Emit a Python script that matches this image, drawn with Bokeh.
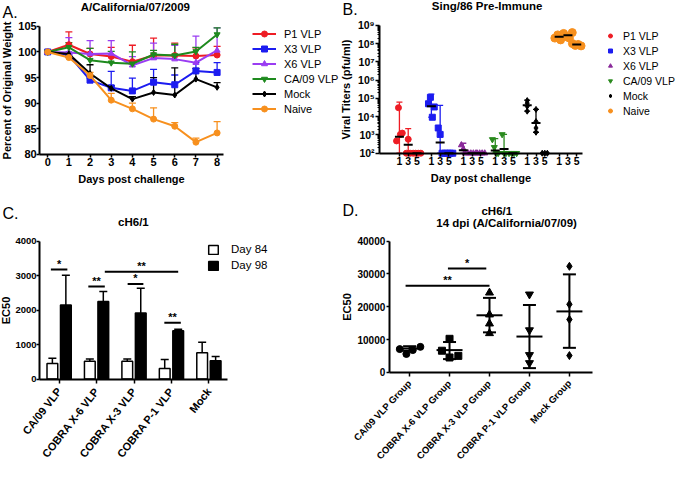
import math
from bokeh.plotting import figure
from bokeh.models import (Range1d, Label, Legend, LegendItem, Whisker, TeeHead, LinearAxis,
                          LogAxis, LogScale, LinearScale, ColumnDataSource, FixedTicker,
                          CustomJSTickFormatter)
from bokeh.core.properties import value
from bokeh.embed import file_html
from bokeh.resources import INLINE

FONT = "Liberation Sans"
W, H = 680, 462
SX, SY = 680 / 696, 462 / 478

# ---------------- Panel A data ----------------
a_days = [0, 1, 2, 3, 4, 5, 6, 7, 8]
a_names = ["P1 VLP", "X3 VLP", "X6 VLP", "CA/09 VLP", "Mock", "Naive"]
a_p1 = [100, 101.4, 99.6, 99.1, 98.1, 99.3, 99.3, 99.2, 99.4]
a_p1_top = [100, 103.9, 100.7, 100.9, 101.3, 102.7, 101.7, 100.8, 101.1]
a_x3 = [100, 99.4, 94.5, 93.0, 92.4, 94.1, 93.6, 96.3, 96.0]
a_x3_top = [100, 99.8, 94.9, 96.2, 94.9, 96.6, 95.5, 97.9, 97.9]
a_x6 = [100, 99.9, 99.6, 99.7, 97.4, 98.8, 98.6, 97.9, 100.3]
a_x6_top = [100, 102.8, 102.2, 102.2, 99.1, 101.7, 101.3, 103.1, 104.7]
a_ca09 = [100, 100.9, 98.4, 97.9, 97.7, 99.5, 99.3, 100.1, 103.4]
a_ca09_top = [100, 101.8, 100.7, 100.1, 100.0, 100.3, 101.5, 100.9, 104.7]
a_mock = [100, 99.6, 95.8, 92.9, 90.8, 92.1, 91.6, 94.7, 93.1]
a_mock_top = [100, 99.9, 97.5, 93.4, 91.3, 95.0, 96.9, 96.8, 94.0]
a_naive = [100, 98.9, 95.4, 90.6, 88.9, 86.9, 85.5, 82.4, 84.2]
a_naive_top = [100, 99.2, 96.0, 91.9, 90.0, 89.1, 86.2, 83.2, 86.4]
a_yticks = [80, 85, 90, 95, 100, 105]

# ---------------- Panel B data (pfu/ml) ----------------
b_names = ["P1 VLP", "X3 VLP", "X6 VLP", "CA/09 VLP", "Mock", "Naive"]
b_day_labels = ["1", "3", "5"]
b_p1 = [[470, 31000, 1070, 1260], [100, 580, 100], [100, 100, 100, 100]]
b_p1_mid = [800, 290, 100]
b_p1_lo = [100, 100, 100]
b_p1_hi = [62000, 2200, 100]
b_x3 = [[51000, 115000, 9300, 34000], [2400, 1070, 100], [100, 100, 100, 100]]
b_x3_mid = [37000, 380, 100]
b_x3_lo = [9300, 100, 100]
b_x3_hi = [170000, 42000, 100]
b_x6 = [[280, 170, 100], [100, 100, 100, 100], [100, 100, 100, 100]]
b_x6_mid = [145, 100, 100]
b_x6_lo = [100, 100, 100]
b_x6_hi = [350, 100, 100]
b_ca09 = [[570, 210, 100, 100], [1070, 100, 100], [100, 100, 100, 100]]
b_ca09_mid = [140, 170, 100]
b_ca09_lo = [100, 100, 100]
b_ca09_hi = [630, 1070, 100]
b_mock = [[76000, 55000, 37000, 20000], [25000, 5400, 2400, 1400], [100, 100, 100]]
b_mock_mid = [42000, 4500, 100]
b_mock_lo = [20000, 1400, 100]
b_mock_hi = [80000, 25000, 100]
b_naive = [[2.0e8, 3.0e8, 1.6e8, 2.6e8], [3.6e8, 2.4e8, 2.0e8, 4.0e8], [1.0e8, 8.0e7, 9.0e7, 7.5e7]]
b_naive_mid = [2.4e8, 2.9e8, 8.8e7]
b_naive_lo = [2.4e8, 2.9e8, 8.8e7]
b_naive_hi = [2.4e8, 2.9e8, 8.8e7]

# ---------------- Panel C data ----------------
c_cats = ["CA/09 VLP", "COBRA X-6 VLP", "COBRA X-3 VLP", "COBRA P-1 VLP", "Mock"]
c_day84 = [449, 514, 514, 308, 766]
c_day84_top = [607, 579, 579, 570, 1065]
c_day98 = [2150, 2252, 1916, 1402, 533]
c_day98_top = [3009, 2542, 2636, 1449, 654]
c_sig_x0 = [-0.22, 0.78, 1.22, 1.83, 2.81]
c_sig_x1 = [0.22, 1.22, 3.18, 2.25, 3.25]
c_sig_y = [3178, 2682, 3112, 2757, 1636]
c_sig_txt = ["*", "**", "**", "*", "**"]
c_yticks = [0, 1000, 2000, 3000, 4000]

# ---------------- Panel D data ----------------
d_cats = ["CA/09 VLP Group", "COBRA X-6 VLP Group", "COBRA X-3 VLP Group",
          "COBRA P-1 VLP Group", "Mock Group"]
d_vals = [[7076, 5602, 6781, 7764], [10221, 6585, 4521, 5012],
          [24275, 17592, 14840, 11892], [23784, 12875, 5307, 2850],
          [32334, 20737, 16118, 5111]]
d_jitter = [[-0.245, -0.08, 0.08, 0.27], [0.0, -0.19, 0.0, 0.22],
            [0, 0, 0, 0], [0, 0, 0, 0], [0, 0, 0, 0]]
d_mean = [7273, 6781, 17396, 10909, 18575]
d_sd_lo = [6585, 4030, 12187, 1278, 7469]
d_sd_hi = [7960, 9238, 22703, 20540, 29877]
d_sig_x0 = [0.96, -0.1]
d_sig_x1 = [1.92, 2.0]
d_sig_y = [31646, 26437]
d_sig_txt = ["*", "**"]
d_yticks = [0, 10000, 20000, 30000, 40000]


# ---------- helpers: map a panel's data span onto reference pixel positions ----------
def x_map(d0, r0, d1, r1):
    p0, p1 = r0 * SX, r1 * SX
    s = (d1 - d0) / (p1 - p0)
    return Range1d(start=d0 - p0 * s, end=d0 + (W - p0) * s)


def y_map(d0, r0, d1, r1, log=False):
    if log:
        d0, d1 = math.log10(d0), math.log10(d1)
    b0, b1 = H - r0 * SY, H - r1 * SY
    s = (d1 - d0) / (b1 - b0)
    start, end = d0 - b0 * s, d0 + (H - b0) * s
    if log:
        return Range1d(start=10 ** start, end=10 ** end)
    return Range1d(start=start, end=end)


p = figure(width=W, height=H, x_range=Range1d(0, W), y_range=Range1d(H, 0),
           x_axis_location=None, y_axis_location=None, output_backend="svg",
           toolbar_location=None, tools="", min_border=0)
p.outline_line_color = None
p.grid.visible = False

p.extra_x_ranges = {
    "A": x_map(0, 48.3, 8, 221.7),
    "B": x_map(0, 417.3, 5, 580.8),
    "C": x_map(0, 60, 4, 213.3),
    "D": x_map(0, 418.7, 4, 582.3),
}
p.extra_y_ranges = {
    "A": y_map(80, 159.3, 105, 26.7),
    "B": y_map(100, 158.0, 1e9, 25.7, log=True),
    "C": y_map(0, 391.7, 4000, 249),
    "D": y_map(0, 384.7, 40000, 249),
}
p.extra_y_scales = {"A": LinearScale(), "B": LogScale(), "C": LinearScale(), "D": LinearScale()}


def style_axis(ax, label_size):
    ax.axis_line_width = 2
    ax.axis_line_color = "black"
    ax.major_tick_line_width = 1.5
    ax.major_tick_line_color = "black"
    ax.major_tick_in = 0
    ax.major_tick_out = 3
    ax.minor_tick_line_color = None
    ax.major_label_text_font = FONT
    ax.major_label_text_font_style = "bold"
    ax.major_label_text_color = "black"
    ax.major_label_text_font_size = label_size
    ax.major_label_standoff = 1
    ax.axis_label_text_font = FONT
    ax.axis_label_text_font_style = "bold"
    ax.axis_label_text_font_size = "11px"
    ax.axis_label_text_color = "black"
    ax.axis_label_standoff = 3


def add_axes(name, x_at, y_at, xb, yb, xlab, ylab, xsize, ysize, ylog=False):
    xa = LinearAxis(x_range_name=name, y_range_name=name, fixed_location=x_at, bounds=xb,
                    axis_label=xlab)
    yc = LogAxis if ylog else LinearAxis
    ya = yc(x_range_name=name, y_range_name=name, fixed_location=y_at, bounds=yb,
            axis_label=ylab)
    style_axis(xa, xsize)
    style_axis(ya, ysize)
    p.add_layout(xa, "below")
    p.add_layout(ya, "left")
    return xa, ya


def add_label(xr, yr, text, size, style="bold", align="center"):
    p.add_layout(Label(x=xr * SX, y=yr * SY, text=text, text_font=FONT,
                       text_font_size=f"{size}px", text_font_style=style, text_align=align,
                       text_baseline="middle", text_color="black"))


def style_legend(lg, size):
    lg.label_text_font = FONT
    lg.label_text_font_size = size
    lg.label_text_color = "black"
    lg.spacing = 0
    lg.padding = 0
    lg.margin = 0
    lg.border_line_color = None
    lg.background_fill_alpha = 0


RA = dict(x_range_name="A", y_range_name="A")
RB = dict(x_range_name="B", y_range_name="B")
RC = dict(x_range_name="C", y_range_name="C")
RD = dict(x_range_name="D", y_range_name="D")

# ================= Panel A =================
xa, ya = add_axes("A", 80, -0.38, (-0.38, 8.29), (80, 105), "Days post challenge",
                  "Percent of Original Weight", "11px", "11px")
xa.ticker = FixedTicker(ticks=a_days)
ya.ticker = FixedTicker(ticks=a_yticks)
ya.major_label_standoff = 0
ya.axis_label_standoff = 2

a_series = [(a_p1, a_p1_top, "#ee1c24", "circle"),
            (a_x3, a_x3_top, "#1c1cf0", "square"),
            (a_x6, a_x6_top, "#9a3cf2", "triangle"),
            (a_ca09, a_ca09_top, "#1e8a1e", "inverted_triangle"),
            (a_mock, a_mock_top, "#000000", "diamond"),
            (a_naive, a_naive_top, "#f7901e", "circle")]
a_items = []
for name, (vals, tops, col, mk) in zip(a_names, a_series):
    src = ColumnDataSource(dict(x=a_days, v=vals, u=tops))
    p.add_layout(Whisker(source=src, base="x", lower="v", upper="u", dimension="height",
                         line_color=col, line_width=1.3, lower_head=None,
                         upper_head=TeeHead(size=7, line_color=col, line_width=1.3), **RA))
    lr = p.line("x", "v", source=src, line_color=col, line_width=2, **RA)
    sr = p.scatter("x", "v", source=src, marker=mk, size=6, color=col, **RA)
    a_items.append(LegendItem(label=name, renderers=[lr, sr]))
legA = Legend(items=a_items, location=(252, 346))
style_legend(legA, "11px")
legA.glyph_width = 24
legA.glyph_height = 15
legA.label_height = 15
legA.label_standoff = 8
p.add_layout(legA)
add_label(138, 7, "A/California/07/2009", 11.5)
add_label(2, 12, "A.", 16, style="normal", align="left")

# ================= Panel B =================
b_day_off = [-0.275, 0.0, 0.275]
xb, yb = add_axes("B", 100, -0.896, (-0.896, 5.46), (100, 1e9), "Day post challenge",
                  "Viral Titers (pfu/ml)", "10.5px", "10.5px", ylog=True)
b_tick_pos = [g + o for g in range(len(b_names)) for o in b_day_off]
b_tick_lab = [lab for g in range(len(b_names)) for lab in b_day_labels]
xb.ticker = FixedTicker(ticks=b_tick_pos)
xb.formatter = CustomJSTickFormatter(args=dict(labels=b_tick_lab),
                                     code="return labels[index];")
decades = [10 ** k for k in range(2, 10)]
minors = [m * 10 ** k for k in range(2, 9) for m in range(2, 10)]
yb.ticker = FixedTicker(ticks=decades, minor_ticks=minors)
yb.formatter = CustomJSTickFormatter(code="""
const sup = {"0":"\u2070","1":"\u00b9","2":"\u00b2","3":"\u00b3","4":"\u2074","5":"\u2075","6":"\u2076","7":"\u2077","8":"\u2078","9":"\u2079"};
const e = Math.round(Math.log10(tick));
return "10" + String(e).split("").map(c => sup[c]).join("");
""")
yb.minor_tick_line_color = "black"
yb.minor_tick_in = 0
yb.minor_tick_out = 2
yb.major_tick_out = 4

b_series = [(b_p1, b_p1_mid, b_p1_lo, b_p1_hi, "#ee1c24", "circle", 6),
            (b_x3, b_x3_mid, b_x3_lo, b_x3_hi, "#1c1cf0", "square", 6),
            (b_x6, b_x6_mid, b_x6_lo, b_x6_hi, "#8a2a9a", "triangle", 6),
            (b_ca09, b_ca09_mid, b_ca09_lo, b_ca09_hi, "#2a8a1e", "inverted_triangle", 6),
            (b_mock, b_mock_mid, b_mock_lo, b_mock_hi, "#000000", "diamond", 6),
            (b_naive, b_naive_mid, b_naive_lo, b_naive_hi, "#f7901e", "circle", 8)]
b_items = []
for g, (name, (pts, mid, lo, hi, col, mk, sz)) in enumerate(zip(b_names, b_series)):
    xs, ys, wx, wl, wh, mx = [], [], [], [], [], []
    for d, day_pts in enumerate(pts):
        base = g + b_day_off[d]
        n = len(day_pts)
        if len(set(day_pts)) == 1:
            step = 0.08
        elif name == "Mock":
            step = 0.0
        elif name == "Naive":
            step = 0.09
        else:
            step = 0.06
        for k, v in enumerate(day_pts):
            xs.append(base + step * (k - (n - 1) / 2))
            ys.append(v)
        mx.append(base)
        if hi[d] > lo[d]:
            wx.append(base)
            wl.append(lo[d])
            wh.append(hi[d])
    wsrc = ColumnDataSource(dict(x=wx, lo=wl, hi=wh))
    p.add_layout(Whisker(source=wsrc, base="x", lower="lo", upper="hi", dimension="height",
                         line_color=col, line_width=1.3,
                         lower_head=TeeHead(size=6, line_color=col, line_width=1.3),
                         upper_head=TeeHead(size=6, line_color=col, line_width=1.3), **RB))
    sr = p.scatter(xs, ys, marker=mk, size=sz, color=col, **RB)
    p.scatter(mx, mid, marker="dash", size=9, line_color="black", line_width=2, **RB)
    b_items.append(LegendItem(label=name, renderers=[sr]))
legB = Legend(items=b_items, location=(605, 344))
style_legend(legB, "10.5px")
legB.glyph_width = 10
legB.glyph_height = 15
legB.label_height = 15
legB.label_standoff = 8
p.add_layout(legB)
add_label(498, 6, "Sing/86 Pre-Immune", 11.5)
add_label(350, 9, "B.", 16, style="normal", align="left")

# ================= Panel C =================
c_idx = list(range(len(c_cats)))
xc, yc = add_axes("C", 0, -0.521, (-0.521, 4.505), (0, 4000), None, "EC50",
                  "11px", "9.5px")
xc.ticker = FixedTicker(ticks=c_idx)
xc.major_label_overrides = {i: c for i, c in zip(c_idx, c_cats)}
xc.major_label_orientation = 0.91
xc.major_label_standoff = 6
xc.major_tick_out = 4
yc.ticker = FixedTicker(ticks=c_yticks)
yc.major_label_standoff = 0
yc.axis_label_standoff = 0
c_src = ColumnDataSource(dict(x84=[i - 0.18 for i in c_idx], x98=[i + 0.18 for i in c_idx],
                              d84=c_day84, d84t=c_day84_top, d98=c_day98, d98t=c_day98_top))
for xk, vk, tk in (("x84", "d84", "d84t"), ("x98", "d98", "d98t")):
    p.add_layout(Whisker(source=c_src, base=xk, lower=vk, upper=tk, dimension="height",
                         line_color="black", line_width=1.5, lower_head=None,
                         upper_head=TeeHead(size=8, line_color="black", line_width=1.5), **RC))
r84 = p.vbar(x="x84", top="d84", width=0.287, source=c_src, fill_color="white",
             line_color="black", line_width=1.5, **RC)
r98 = p.vbar(x="x98", top="d98", width=0.287, source=c_src, fill_color="black",
             line_color="black", line_width=1.5, **RC)
p.segment(x0=c_sig_x0, y0=c_sig_y, x1=c_sig_x1, y1=c_sig_y, line_color="black",
          line_width=2, **RC)
p.text(x=[(a + b) / 2 for a, b in zip(c_sig_x0, c_sig_x1)], y=c_sig_y, text=c_sig_txt,
       text_font=value(FONT), text_font_size="11px", text_font_style="bold",
       text_align="center", text_baseline="bottom", text_color="black", **RC)
legC = Legend(items=[LegendItem(label="Day 84", renderers=[r84]),
                     LegendItem(label="Day 98", renderers=[r98])], location=(207, 189))
style_legend(legC, "11.5px")
legC.glyph_width = 12
legC.glyph_height = 11
legC.label_height = 16
legC.label_standoff = 12
p.add_layout(legC)
add_label(136, 229.3, "cH6/1", 11.5)
add_label(2, 220, "C.", 16, style="normal", align="left")

# ================= Panel D =================
d_idx = list(range(len(d_cats)))
xd, yd = add_axes("D", 0, -0.508, (-0.508, 4.58), (0, 40000), None, "EC50",
                  "9.5px", "10px")
xd.ticker = FixedTicker(ticks=d_idx)
xd.major_label_overrides = {i: c for i, c in zip(d_idx, d_cats)}
xd.major_label_orientation = 0.82
xd.major_label_standoff = 5
xd.major_tick_out = 4
yd.ticker = FixedTicker(ticks=d_yticks)
yd.axis_label_standoff = 2
d_markers = ["circle", "square", "triangle", "inverted_triangle", "diamond"]
d_sizes = [7, 7, 8, 8, 8]
for i, (vals, jit, mk, sz) in enumerate(zip(d_vals, d_jitter, d_markers, d_sizes)):
    p.scatter([i + j for j in jit], vals, marker=mk, size=sz, color="black", **RD)
d_src = ColumnDataSource(dict(x=d_idx, m=d_mean, lo=d_sd_lo, hi=d_sd_hi))
p.add_layout(Whisker(source=d_src, base="x", lower="lo", upper="hi", dimension="height",
                     line_color="black", line_width=2,
                     lower_head=TeeHead(size=13, line_color="black", line_width=2),
                     upper_head=TeeHead(size=13, line_color="black", line_width=2), **RD))
p.scatter("x", "m", source=d_src, marker="dash", size=26, line_color="black",
          line_width=2, **RD)
p.segment(x0=d_sig_x0, y0=d_sig_y, x1=d_sig_x1, y1=d_sig_y, line_color="black",
          line_width=2, **RD)
p.text(x=[(a + b) / 2 for a, b in zip(d_sig_x0, d_sig_x1)], y=d_sig_y, text=d_sig_txt,
       text_font=value(FONT), text_font_size="11px", text_font_style="bold",
       text_align="center", text_baseline="bottom", text_color="black", **RD)
add_label(508, 217.7, "cH6/1", 11.5)
add_label(518, 230, "14 dpi (A/California/07/09)", 11.5)
add_label(350, 217, "D.", 16, style="normal", align="left")

with open("out.html", "w", encoding="utf-8") as f:
    f.write(file_html(p, INLINE))
